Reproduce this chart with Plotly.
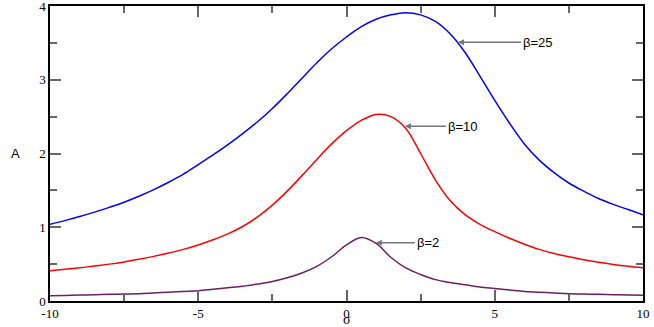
import plotly.graph_objects as go

# sigma grid (x values) shared by all three curves
sigma = [-10, -9.5, -9, -8.5, -8, -7.5, -7, -6.5, -6, -5.5, -5, -4.5, -4, -3.5, -3, -2.5, -2, -1.5, -1, -0.5,
         0, 0.5, 1, 1.5, 2, 2.5, 3, 3.5, 4, 4.5, 5, 5.5, 6, 6.5, 7, 7.5, 8, 8.5, 9, 9.5, 10]

# amplitude A for each beta
a_beta25 = [1.04, 1.09, 1.145, 1.205, 1.27, 1.34, 1.42, 1.51, 1.61, 1.72, 1.85, 1.98, 2.12, 2.27, 2.43, 2.61,
            2.81, 3.02, 3.23, 3.42, 3.58, 3.72, 3.82, 3.88, 3.91, 3.88, 3.79, 3.62, 3.37, 3.05, 2.72, 2.41,
            2.13, 1.91, 1.74, 1.60, 1.49, 1.39, 1.31, 1.24, 1.17]
a_beta10 = [0.41, 0.43, 0.45, 0.475, 0.50, 0.53, 0.565, 0.605, 0.65, 0.70, 0.76, 0.83, 0.91, 1.01, 1.14, 1.30,
            1.49, 1.70, 1.92, 2.13, 2.31, 2.45, 2.53, 2.50, 2.34, 2.00, 1.64, 1.36, 1.17, 1.04, 0.94, 0.85,
            0.77, 0.70, 0.645, 0.60, 0.56, 0.525, 0.495, 0.47, 0.45]
a_beta2 = [0.07, 0.075, 0.08, 0.085, 0.09, 0.095, 0.10, 0.11, 0.12, 0.13, 0.14, 0.16, 0.18, 0.20, 0.23, 0.265,
           0.315, 0.38, 0.47, 0.60, 0.76, 0.86, 0.78, 0.59, 0.45, 0.36, 0.29, 0.25, 0.22, 0.19, 0.17, 0.15,
           0.13, 0.12, 0.11, 0.10, 0.095, 0.09, 0.085, 0.08, 0.078]

# x tick labels use a plain hyphen in the original
x_ticks = [-10, -5, 0, 5, 10]
x_ticktext = ["-10", "-5", "0", "5", "10"]

# labels and where their arrows point (sigma, A)
labels = ["β=25", "β=10", "β=2"]
arrow_x = [3.76, 1.97, 0.99]
arrow_y = [3.51, 2.37, 0.79]
arrow_len = [63, 41, 39]

fig = go.Figure()
for vals, col in [(a_beta25, "#0000ff"), (a_beta10, "#ff0000"), (a_beta2, "#6e1f5e")]:
    fig.add_trace(go.Scatter(x=sigma, y=vals, mode="lines", line=dict(color=col, width=1.5, shape="spline"),
                             showlegend=False))

for lab, xx, yy, al in zip(labels, arrow_x, arrow_y, arrow_len):
    fig.add_annotation(x=xx, y=yy, text=lab, showarrow=True, ax=al, ay=0, xanchor="left",
                       arrowhead=2, arrowsize=0.8, arrowwidth=1.5, arrowcolor="#777777",
                       font=dict(family="Liberation Sans", size=13, color="black"))

# axis titles as annotations (y title is horizontal in the original)
fig.add_annotation(x=-0.058, y=0.5, xref="paper", yref="paper", text="A", showarrow=False,
                   font=dict(family="Liberation Sans", size=13, color="black"), xanchor="center")
fig.add_annotation(x=0.5, y=0, xref="paper", yref="paper", text="σ", showarrow=False, yshift=-18,
                   font=dict(family="Liberation Serif", size=14, color="black"), yanchor="middle")

axis_common = dict(showgrid=False, zeroline=False, showline=True, linecolor="black", linewidth=1.5,
                   mirror="allticks", ticks="inside", ticklen=11, tickcolor="#666666", tickwidth=1.5,
                   automargin=False, ticklabeloverflow="allow",
                   tickfont=dict(family="Liberation Serif", size=13, color="black"))

fig.update_layout(
    width=654, height=327,
    margin=dict(l=50, r=11, t=6, b=26),
    plot_bgcolor="white", paper_bgcolor="white",
    xaxis=dict(range=[-10, 10], tickmode="array", tickvals=x_ticks, ticktext=x_ticktext,
               minor=dict(dtick=2.5, tick0=-10, ticks="inside", ticklen=7, tickcolor="#666666", tickwidth=1.5),
               **axis_common),
    yaxis=dict(range=[0, 4], dtick=1,
               minor=dict(dtick=0.5, ticks="inside", ticklen=7, tickcolor="#666666", tickwidth=1.5),
               **axis_common),
)

# page margin would push the figure 8px off the window
fig.write_html("out.html", config={"displayModeBar": False},
               post_script="document.body.style.margin='0';")
